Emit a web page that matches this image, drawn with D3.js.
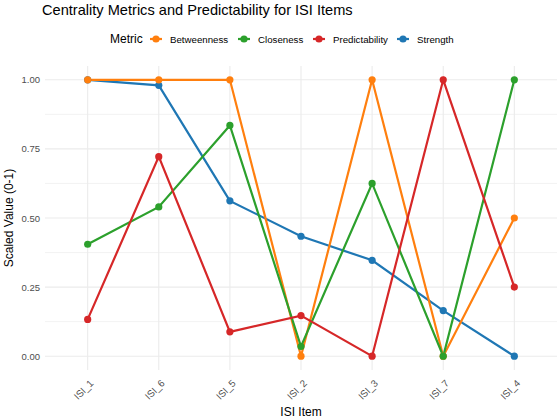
<!DOCTYPE html>
<html>
<head>
<meta charset="utf-8">
<script src="https://cdn.jsdelivr.net/npm/d3@7"></script>
<style>
body { margin: 0; background: #fff; }
text { font-family: "Liberation Sans", Arial, sans-serif; }
</style>
</head>
<body>
<script>
// data
var items = ["ISI_1", "ISI_6", "ISI_5", "ISI_2", "ISI_3", "ISI_7", "ISI_4"];
var metrics = ["Betweenness", "Closeness", "Predictability", "Strength"];
var betweenness = [1, 1, 1, 0, 1, 0, 0.5];
var closeness = [0.405, 0.54, 0.835, 0.035, 0.625, 0, 1];
var predictability = [0.133, 0.722, 0.088, 0.147, 0, 1, 0.25];
var strength = [1, 0.98, 0.562, 0.434, 0.347, 0.165, 0];
var yTicks = [0, 0.25, 0.5, 0.75, 1];

var colors = {
    Betweenness: "#ff7f0e",
    Closeness: "#2ca02c",
    Predictability: "#d62728",
    Strength: "#1f77b4"
};
var series = [
    { name: "Strength", values: strength },
    { name: "Betweenness", values: betweenness },
    { name: "Closeness", values: closeness },
    { name: "Predictability", values: predictability }
];

var w = 560, h = 419;
var panel = { left: 45, right: 557, top: 66, bottom: 370 };

var svg = d3.select("body").append("svg").attr("width", w).attr("height", h);

// discrete x with ggplot style 0.6 expansion
var xScale = d3.scalePoint()
    .domain(items)
    .range([panel.left, panel.right])
    .padding(0.6);

var yScale = d3.scaleLinear()
    .domain([-0.05, 1.05])
    .range([panel.bottom, panel.top]);

// grid lines
var minor = [0.125, 0.375, 0.625, 0.875];
svg.append("g").selectAll("line")
    .data(minor)
    .enter()
    .append("line")
    .attr("x1", panel.left).attr("x2", panel.right)
    .attr("y1", (d) => yScale(d)).attr("y2", (d) => yScale(d))
    .attr("stroke", "#ebebeb").attr("stroke-width", 0.6);

svg.append("g").selectAll("line")
    .data(yTicks)
    .enter()
    .append("line")
    .attr("x1", panel.left).attr("x2", panel.right)
    .attr("y1", (d) => yScale(d)).attr("y2", (d) => yScale(d))
    .attr("stroke", "#ebebeb").attr("stroke-width", 1.1);

svg.append("g").selectAll("line")
    .data(items)
    .enter()
    .append("line")
    .attr("x1", (d) => xScale(d)).attr("x2", (d) => xScale(d))
    .attr("y1", panel.top).attr("y2", panel.bottom)
    .attr("stroke", "#ebebeb").attr("stroke-width", 1.1);

// lines
var line = d3.line()
    .x((d, i) => xScale(items[i]))
    .y((d) => yScale(d));

svg.append("g").selectAll("path")
    .data(series)
    .enter()
    .append("path")
    .attr("d", (d) => line(d.values))
    .attr("fill", "none")
    .attr("stroke", (d) => colors[d.name])
    .attr("stroke-width", 2.2);

// points
series.forEach((s) => {
    svg.append("g").selectAll("circle")
        .data(s.values)
        .enter()
        .append("circle")
        .attr("cx", (d, i) => xScale(items[i]))
        .attr("cy", (d) => yScale(d))
        .attr("r", 3.6)
        .attr("fill", colors[s.name]);
});

// axes
var yAxis = d3.axisLeft(yScale)
    .tickValues(yTicks)
    .tickFormat(d3.format(".2f"))
    .tickSize(0)
    .tickPadding(5);

var yAxisG = svg.append("g")
    .attr("transform", "translate(" + panel.left + ",0)")
    .call(yAxis);
yAxisG.select(".domain").remove();
yAxisG.selectAll("text")
    .attr("font-size", "9.5px")
    .attr("fill", "#4d4d4d")
    .style("font-family", "Liberation Sans, Arial, sans-serif");

var xAxis = d3.axisBottom(xScale).tickSize(0).tickPadding(0);
var xAxisG = svg.append("g")
    .attr("transform", "translate(0," + panel.bottom + ")")
    .call(xAxis);
xAxisG.select(".domain").remove();
xAxisG.selectAll("text")
    .attr("font-size", "9.8px")
    .attr("fill", "#4d4d4d")
    .attr("text-anchor", "end")
    .attr("dy", null)
    .attr("y", 0)
    .attr("transform", "translate(6,14) rotate(-45)")
    .style("font-family", "Liberation Sans, Arial, sans-serif");

// axis titles
svg.append("text")
    .text("ISI Item")
    .attr("x", (panel.left + panel.right) / 2)
    .attr("y", 416)
    .attr("text-anchor", "middle")
    .attr("font-size", "12px")
    .attr("fill", "#000");

svg.append("text")
    .text("Scaled Value (0-1)")
    .attr("transform", "translate(13," + ((panel.top + panel.bottom) / 2) + ") rotate(-90)")
    .attr("text-anchor", "middle")
    .attr("font-size", "12px")
    .attr("fill", "#000");

// title
svg.append("text")
    .text("Centrality Metrics and Predictability for ISI Items")
    .attr("x", 42)
    .attr("y", 15)
    .attr("font-size", "14.6px")
    .attr("fill", "#000");

// legend
var legend = svg.append("g");
legend.append("text")
    .text("Metric")
    .attr("x", 110)
    .attr("y", 43)
    .attr("font-size", "12px")
    .attr("fill", "#000");

var keyX = [156, 244, 319, 403];
metrics.forEach((m, i) => {
    var g = legend.append("g").attr("transform", "translate(" + keyX[i] + ",39)");
    g.append("line")
        .attr("x1", -6).attr("x2", 6)
        .attr("stroke", colors[m]).attr("stroke-width", 2.2);
    g.append("circle").attr("r", 3.6).attr("fill", colors[m]);
    g.append("text")
        .text(m)
        .attr("x", 14)
        .attr("y", 3.5)
        .attr("font-size", "9.7px")
        .attr("fill", "#000");
});
</script>
</body>
</html>
